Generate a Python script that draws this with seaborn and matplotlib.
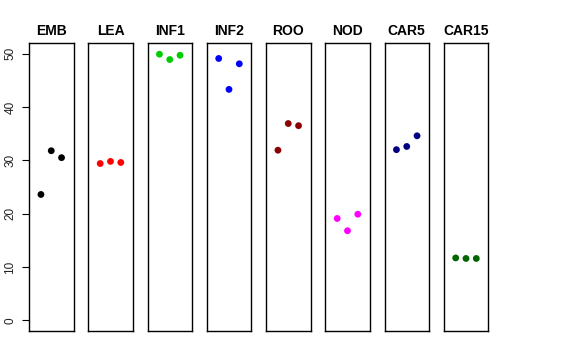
import matplotlib
matplotlib.use("Agg")
import matplotlib.pyplot as plt
import seaborn as sns
import pandas as pd

# tissue panels, three replicates each
tissues = ["EMB", "LEA", "INF1", "INF2", "ROO", "NOD", "CAR5", "CAR15"]
colors = ["#000000", "#FF0000", "#00CD00", "#0000FF", "#8B0000", "#FF00FF", "#000080", "#006400"]
replicate = [1, 2, 3]
values = {
    "EMB": [23.6, 31.8, 30.5],
    "LEA": [29.4, 29.8, 29.6],
    "INF1": [49.9, 48.9, 49.7],
    "INF2": [49.1, 43.3, 48.1],
    "ROO": [31.9, 36.9, 36.5],
    "NOD": [19.1, 16.8, 19.9],
    "CAR5": [32.0, 32.6, 34.6],
    "CAR15": [11.7, 11.6, 11.6],
}
yticks = [0, 10, 20, 30, 40, 50]

sns.set_style("white")
plt.rcParams["font.family"] = ["Liberation Sans", "DejaVu Sans"]
plt.rcParams["text.color"] = "black"
plt.rcParams["axes.labelcolor"] = "black"
plt.rcParams["ytick.color"] = "black"

W, H = 576, 360
fig = plt.figure(figsize=(5.76, 3.6), dpi=100)

left0, width, step = 29, 44.5, 59.25
top, bottom = 43, 331

for i, (tissue, col) in enumerate(zip(tissues, colors)):
    ax = fig.add_axes([(left0 + i * step) / W, 1 - bottom / H, width / W, (bottom - top) / H])
    df = pd.DataFrame({"rep": replicate, "val": values[tissue]})
    sns.scatterplot(data=df, x="rep", y="val", ax=ax, color=col, s=24,
                    edgecolor="none", legend=False)
    ax.set_xlim(-0.16, 4.16)
    ax.set_ylim(-2, 52)
    ax.set_xlabel("")
    ax.set_ylabel("")
    ax.set_xticks([])
    ax.set_title(tissue, fontsize=10, fontweight="bold", pad=6, color="black")
    for sp in ax.spines.values():
        sp.set_visible(True)
        sp.set_color("black")
        sp.set_linewidth(1)
    if i == 0:
        ax.set_yticks(yticks)
        ax.set_yticklabels([str(t) for t in yticks], rotation=90, va="center",
                           fontsize=8.5, color="#222222")
        ax.tick_params(axis="y", left=True, length=5, width=0.8, color="black", pad=4)
    else:
        ax.set_yticks([])

fig.savefig("out.png", dpi=100)
